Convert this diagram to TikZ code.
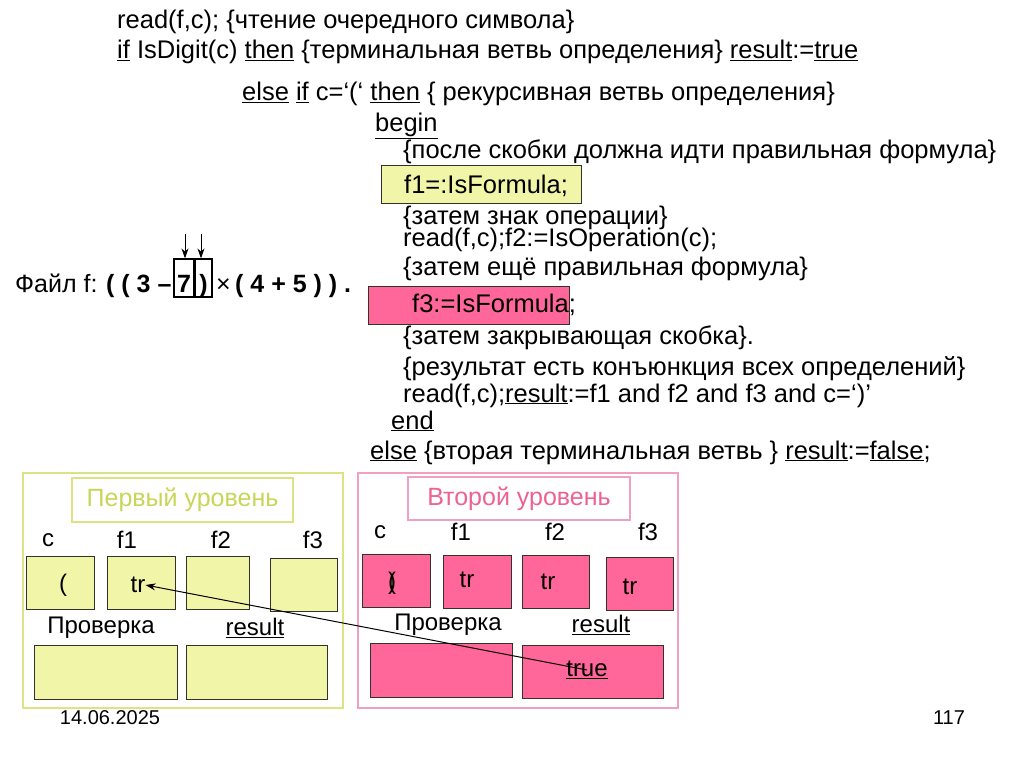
\documentclass[tikz,border=0pt]{standalone}
\usepackage{fontspec}
\setmainfont{Liberation Sans}
\usetikzlibrary{arrows.meta}
\definecolor{yfill}{RGB}{240,245,168}
\definecolor{pfill}{RGB}{255,102,153}
\definecolor{yborder}{RGB}{218,228,130}
\definecolor{ytext}{RGB}{198,214,88}
\definecolor{pborder}{RGB}{240,160,192}
\definecolor{ptext}{RGB}{236,98,146}
\definecolor{edge}{RGB}{50,50,40}
\tikzset{
  code/.style={anchor=base west, inner sep=0pt, font=\fontsize{25.5}{28}\selectfont},
  fline/.style={anchor=base west, inner sep=0pt, font=\fontsize{25}{27}\selectfont},
  lbl/.style={inner sep=0pt, font=\fontsize{24}{26}\selectfont},
  ybox/.style={draw=edge, fill=yfill, line width=0.9pt, inner sep=0pt},
  pbox/.style={draw=edge, fill=pfill, line width=0.9pt, inner sep=0pt},
  cell/.style={minimum width=68pt, minimum height=53pt},
  wide/.style={minimum width=143pt, minimum height=54pt},
  markbox/.style={draw, line width=1.2pt, minimum height=38pt, inner sep=0pt},
  ptr/.style={-{Stealth[length=10pt,width=7pt]}, line width=1pt},
}
\newcommand{\ul}[1]{\underline{#1}}
\begin{document}
\begin{tikzpicture}[x=1pt,y=-1pt]
\useasboundingbox (0,0) rectangle (1024,767);
% code text
\node[code] (l1) at (117,29) {read(f,c); \{чтение очередного символа\}};
\node[code] (l2) at (117,59) {\ul{if} IsDigit(c) \ul{then} \{терминальная ветвь определения\} \ul{result}:=\ul{true}};
\node[code] (l3) at (242,101) {\ul{else} \ul{if} c=‘(‘ \ul{then} \{ рекурсивная ветвь определения\}};
\node[code] (l4) at (375,132) {\ul{begin}};
\node[code] (l5) at (403,159) {\{после скобки должна идти правильная формула\}};
\node[ybox, anchor=north west, minimum width=200pt, minimum height=38pt] (f1box) at (381,165) {};
\node[code] (l6) at (404,194) {f1=:IsFormula;};
\node[code] (l7) at (403,225) {\{затем знак операции\}};
\node[code] (l8) at (403,247) {read(f,c);f2:=IsOperation(c);};
\node[code] (l9) at (403,275) {\{затем ещё правильная формула\}};
\node[pbox, anchor=north west, minimum width=201pt, minimum height=38pt] (f3box) at (368,286) {};
\node[code] (l10) at (412,312) {f3:=IsFormula;};
\node[code] (l11) at (403,344) {\{затем закрывающая скобка\}.};
\node[code] (l12) at (403,375) {\{результат есть конъюнкция всех определений\}};
\node[code] (l13) at (403,402) {read(f,c);\ul{result}:=f1 and f2 and f3 and c=‘)’};
\node[code] (l14) at (391,429) {\ul{end}};
\node[code] (l15) at (370,459) {\ul{else} \{вторая терминальная ветвь \} \ul{result}:=\ul{false};};
% file line
\node[markbox, minimum width=20pt] (seven) at (184,278) {};
\node[markbox, minimum width=17pt] (rpar) at (203.5,278) {};
\node[fline] (fa) at (15,292) {Файл f:};
\node[fline, font=\fontsize{25}{27}\selectfont\bfseries] (fb) at (106,292) {( ( 3 –};
\node[fline, font=\fontsize{25}{27}\selectfont\bfseries, anchor=base] (seventxt) at (184,292) {7};
\node[fline, font=\fontsize{25}{27}\selectfont\bfseries, anchor=base] (rpartxt) at (203.5,292) {)};
\node[fline] (times) at (216,292) {×};
\node[fline, font=\fontsize{25}{27}\selectfont\bfseries] (fc) at (235,292) {( 4 + 5 ) ) .};
\coordinate (a1) at (185,234);
\coordinate (a2) at (201,234);
\draw[ptr] (a1) -- (a1 |- seven.north);
\draw[ptr] (a2) -- (a2 |- rpar.north);
% left panel
\draw[draw=yborder, line width=1.2pt] (23,473) rectangle (343,708);
\node[draw=yborder, line width=1.2pt, minimum width=221pt, minimum height=44pt, inner sep=0pt, text=ytext, font=\fontsize{25}{27}\selectfont] (t1) at (182.5,500) {Первый уровень};
\node[lbl] (c1l) at (48,540) {c};
\node[lbl] (f11l) at (127,540) {f1};
\node[lbl] (f21l) at (221,540) {f2};
\node[lbl] (f31l) at (313,540) {f3};
\node[ybox, cell] (c1) at (60,583) {};
\node[ybox, cell] (f11) at (141,583) {};
\node[ybox, cell, minimum width=63pt] (f21) at (217.5,583) {};
\node[ybox, cell, minimum width=67pt] (f31) at (303.5,585) {};
\node[lbl] (c1t) at (63,585) {(};
\node[lbl] (tr1) at (138,585) {tr};
\node[lbl] (p1) at (101,628) {Проверка};
\node[lbl] (r1) at (255,628) {\ul{result}};
\node[ybox, wide] (pb1) at (105.5,672) {};
\node[ybox, wide, minimum width=141pt] (rb1) at (256.5,672) {};
% right panel
\draw[draw=pborder, line width=1.2pt] (358,473) rectangle (678,708);
\node[draw=pborder, line width=1.2pt, minimum width=222pt, minimum height=43pt, inner sep=0pt, text=ptext, font=\fontsize{25}{27}\selectfont] (t2) at (519,498.5) {Второй уровень};
\node[lbl] (c2l) at (380,532) {c};
\node[lbl] (f12l) at (461,532) {f1};
\node[lbl] (f22l) at (555,532) {f2};
\node[lbl] (f32l) at (648,532) {f3};
\node[pbox, cell] (c2) at (396,581) {};
\node[pbox, cell] (f12) at (477,581.5) {};
\node[pbox, cell, minimum width=67pt] (f22) at (555.5,581.5) {};
\node[pbox, cell, minimum width=67pt] (f32) at (639.5,583.5) {};
\node[lbl] (c2t) at (392,583) {\rlap{)}(};
\node[lbl] (tr2) at (467,580) {tr};
\node[lbl] (tr3) at (548,582) {tr};
\node[lbl] (tr4) at (630,587) {tr};
\node[lbl] (p2) at (448,625) {Проверка};
\node[lbl] (r2) at (601,625) {\ul{result}};
\node[pbox, wide, minimum width=142pt] (pb2) at (441,670.5) {};
\node[pbox, wide, minimum width=141pt, minimum height=53pt] (rb2) at (592.5,671.5) {};
\node[lbl] (true) at (587,670) {\ul{true}};
\draw[ptr] (true.center) -- (tr1.east);
% footer
\node[lbl, font=\fontsize{20}{22}\selectfont] (date) at (110,718) {14.06.2025};
\node[lbl, font=\fontsize{20}{22}\selectfont] (page) at (949,718) {117};
\end{tikzpicture}
\end{document}
